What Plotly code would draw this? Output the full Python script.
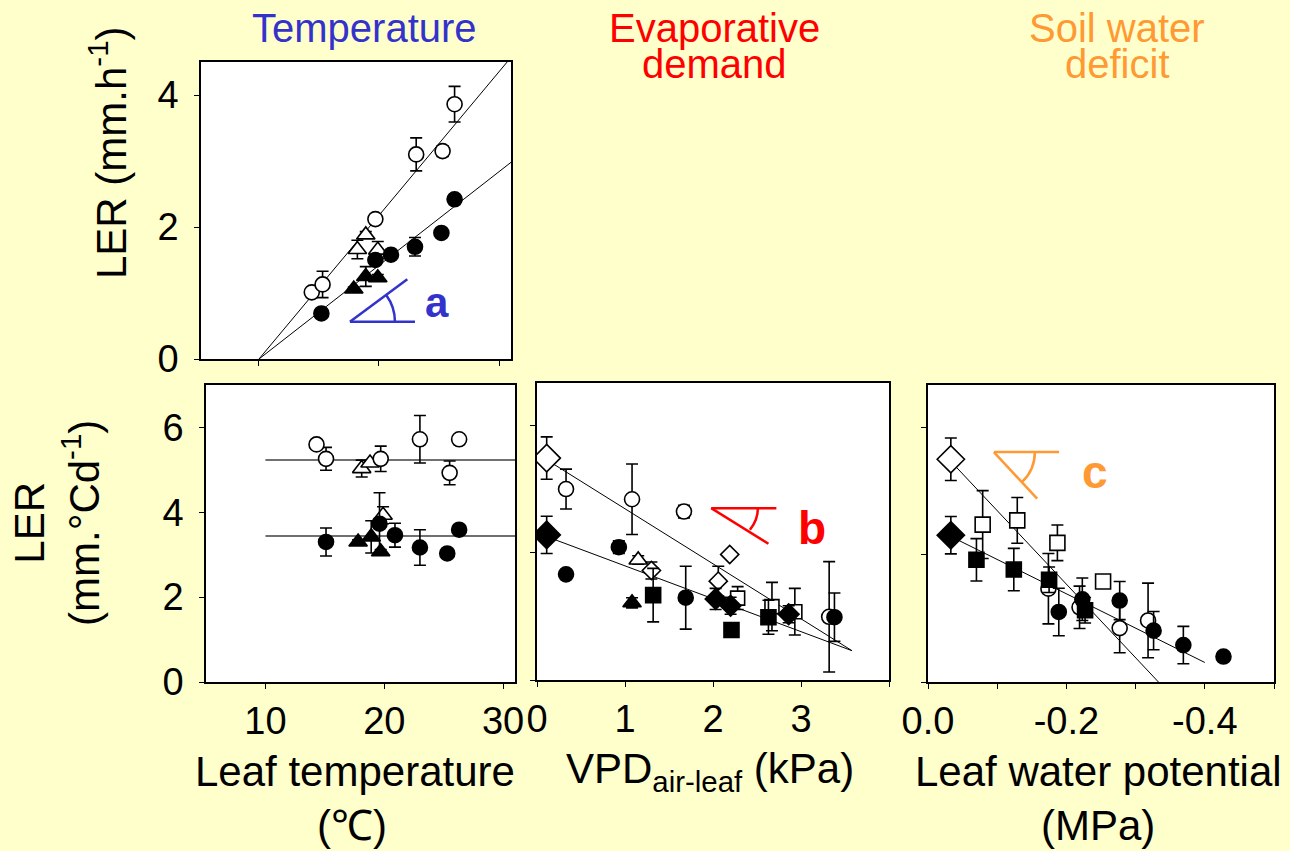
import plotly.graph_objects as go

# ---------------- data ----------------
# Panel a: LER (mm h-1) vs leaf temperature (°C)
a_open_circle_x = [14.4, 15.3, 19.7, 23.1, 25.3, 26.3]
a_open_circle_y = [1.01, 1.13, 2.12, 3.10, 3.15, 3.86]
a_open_circle_err = [0.0, 0.20, 0.06, 0.25, 0.08, 0.27]
a_open_tri_x = [18.2, 18.9, 19.9]
a_open_tri_y = [1.66, 1.88, 1.65]
a_open_tri_err = [0.14, 0.05, 0.13]
a_filled_circle_x = [15.2, 19.7, 21.0, 23.0, 25.2, 26.3]
a_filled_circle_y = [0.69, 1.50, 1.58, 1.70, 1.91, 2.42]
a_filled_circle_err = [0.0, 0.05, 0.06, 0.14, 0.0, 0.06]
a_filled_tri_x = [17.9, 18.9, 19.9]
a_filled_tri_y = [1.06, 1.25, 1.23]
a_filled_tri_err = [0.03, 0.15, 0.05]
a_fit_open_x = [10, 31]
a_fit_open_y = [0.0, 4.57]
a_fit_filled_x = [10, 31]
a_fit_filled_y = [0.0, 2.98]

# Panel a (lower): LER (mm °Cd-1) vs leaf temperature (°C)
t_open_circle_x = [14.3, 15.1, 19.7, 23.0, 25.5, 26.3]
t_open_circle_y = [5.60, 5.26, 5.26, 5.72, 4.93, 5.72]
t_open_circle_err = [0.0, 0.27, 0.30, 0.56, 0.28, 0.0]
t_open_tri_x = [18.1, 18.8, 19.9]
t_open_tri_y = [5.03, 5.16, 3.93]
t_open_tri_err = [0.2, 0.05, 0.2]
t_filled_circle_x = [15.1, 19.6, 20.9, 23.0, 25.3, 26.3]
t_filled_circle_y = [3.30, 3.73, 3.46, 3.17, 3.03, 3.59]
t_filled_circle_err = [0.33, 0.73, 0.28, 0.42, 0.0, 0.10]
t_filled_tri_x = [17.8, 18.9, 19.7]
t_filled_tri_y = [3.30, 3.42, 3.07]
t_filled_tri_err = [0.05, 0.38, 0.05]
t_fit_open_x = [10, 31]
t_fit_open_y = [5.23, 5.23]
t_fit_filled_x = [10, 31]
t_fit_filled_y = [3.44, 3.44]

# Panel b: LER (mm °Cd-1) vs VPD air-leaf (kPa)
v_open_diamond_ref_x = [0.11]
v_open_diamond_ref_y = [5.23]
v_open_diamond_ref_err = [0.5]
v_filled_diamond_ref_x = [0.11]
v_filled_diamond_ref_y = [3.42]
v_filled_diamond_ref_err = [0.44]
v_open_diamond_x = [1.30, 2.06, 2.19]
v_open_diamond_y = [2.58, 2.33, 2.96]
v_open_diamond_err = [0.2, 0.35, 0.0]
v_open_circle_x = [0.33, 1.08, 1.67, 3.32]
v_open_circle_y = [4.50, 4.26, 3.97, 1.49]
v_open_circle_err = [0.47, 0.83, 0.15, 1.3]
v_open_tri_x = [1.15]
v_open_tri_y = [2.83]
v_open_tri_err = [0.1]
v_open_square_x = [2.28, 2.67, 2.93]
v_open_square_y = [1.93, 1.73, 1.61]
v_open_square_err = [0.27, 0.57, 0.55]
v_filled_diamond_x = [2.03, 2.20, 2.86]
v_filled_diamond_y = [1.91, 1.75, 1.55]
v_filled_diamond_err = [0.25, 0.2, 0.2]
v_filled_circle_x = [0.33, 0.93, 1.69, 3.38]
v_filled_circle_y = [2.49, 3.13, 1.94, 1.48]
v_filled_circle_err = [0.0, 0.15, 0.74, 0.57]
v_filled_tri_x = [1.08]
v_filled_tri_y = [1.82]
v_filled_tri_err = [0.12]
v_filled_square_x = [1.32, 2.21, 2.63]
v_filled_square_y = [2.00, 1.18, 1.48]
v_filled_square_err = [0.63, 0.1, 0.4]
v_fit_open_x = [0.11, 3.58]
v_fit_open_y = [5.19, 0.69]
v_fit_filled_x = [0.11, 3.58]
v_fit_filled_y = [3.38, 0.69]

# Panel c: LER (mm °Cd-1) vs leaf water potential (MPa)
w_open_diamond_ref_x = [-0.033]
w_open_diamond_ref_y = [5.25]
w_open_diamond_ref_err = [0.5]
w_filled_diamond_ref_x = [-0.033]
w_filled_diamond_ref_y = [3.46]
w_filled_diamond_ref_err = [0.44]
w_open_square_x = [-0.079, -0.129, -0.187, -0.253]
w_open_square_y = [3.71, 3.81, 3.28, 2.37]
w_open_square_err = [0.8, 0.54, 0.42, 0.0]
w_filled_square_x = [-0.070, -0.124, -0.175, -0.227]
w_filled_square_y = [2.88, 2.65, 2.41, 1.69]
w_filled_square_err = [0.5, 0.5, 0.3, 0.3]
w_open_circle_x = [-0.174, -0.219, -0.277, -0.318]
w_open_circle_y = [2.20, 1.76, 1.27, 1.45]
w_open_circle_err = [0.83, 0.5, 0.58, 0.88]
w_filled_circle_x = [-0.189, -0.223, -0.277, -0.326, -0.369, -0.427]
w_filled_circle_y = [1.65, 1.95, 1.92, 1.21, 0.87, 0.60]
w_filled_circle_err = [0.56, 0.5, 0.45, 0.45, 0.44, 0.0]
w_fit_open_x = [-0.033, -0.333]
w_fit_open_y = [5.20, 0.0]
w_fit_filled_x = [-0.033, -0.400]
w_fit_filled_y = [3.43, 0.46]

# axis ticks
temp_ticks = [10, 20, 30]
vpd_ticks = [0, 1, 2, 3]
vpd_minor = [4]
psi_ticks = [0.0, -0.2, -0.4]
psi_ticktext = ["0.0", "-0.2", "-0.4"]
psi_minor = [-0.1, -0.3, -0.5]

# ---------------- styling ----------------
BG = "#FFFFCC"
W, H = 1290, 851
FONT = "Liberation Sans, Arial, sans-serif"
BLUE = "#3333CC"
RED = "#FF0000"
ORANGE = "#FF9933"


def fx(p):
    return p / W


def fy(p):
    return 1 - p / H


fig = go.Figure()


def fit_line(x, y, ax, color="black", width=1.0):
    fig.add_trace(go.Scatter(
        x=x, y=y, mode="lines", xaxis="x" + ax, yaxis="y" + ax,
        line=dict(color=color, width=width), hoverinfo="skip", showlegend=False))


def series(x, y, err, ax, symbol, filled, size=15):
    fig.add_trace(go.Scatter(
        x=x, y=y, mode="markers", xaxis="x" + ax, yaxis="y" + ax,
        marker=dict(symbol=symbol, size=size,
                    color="black" if filled else "white",
                    line=dict(color="black", width=1.6)),
        error_y=dict(type="data", array=err, visible=True, color="black",
                     thickness=1.6, width=6),
        showlegend=False))


# panel a (top)
fit_line(a_fit_open_x, a_fit_open_y, "")
fit_line(a_fit_filled_x, a_fit_filled_y, "")
series(a_open_tri_x, a_open_tri_y, a_open_tri_err, "", "triangle-up", False, 16)
series(a_open_circle_x, a_open_circle_y, a_open_circle_err, "", "circle", False)
series(a_filled_tri_x, a_filled_tri_y, a_filled_tri_err, "", "triangle-up", True, 16)
series(a_filled_circle_x, a_filled_circle_y, a_filled_circle_err, "", "circle", True)

# temperature panel, thermal time units
fit_line(t_fit_open_x, t_fit_open_y, "2", "#707070", 2)
fit_line(t_fit_filled_x, t_fit_filled_y, "2", "#707070", 2)
series(t_open_tri_x, t_open_tri_y, t_open_tri_err, "2", "triangle-up", False, 16)
series(t_open_circle_x, t_open_circle_y, t_open_circle_err, "2", "circle", False)
series(t_filled_tri_x, t_filled_tri_y, t_filled_tri_err, "2", "triangle-up", True, 16)
series(t_filled_circle_x, t_filled_circle_y, t_filled_circle_err, "2", "circle", True)

# VPD panel
fit_line(v_fit_open_x, v_fit_open_y, "3")
fit_line(v_fit_filled_x, v_fit_filled_y, "3")
series(v_open_circle_x, v_open_circle_y, v_open_circle_err, "3", "circle", False)
series(v_open_square_x, v_open_square_y, v_open_square_err, "3", "square", False, 14)
series(v_open_tri_x, v_open_tri_y, v_open_tri_err, "3", "triangle-up", False, 16)
series(v_open_diamond_x, v_open_diamond_y, v_open_diamond_err, "3", "diamond", False, 14)
series(v_open_diamond_ref_x, v_open_diamond_ref_y, v_open_diamond_ref_err, "3", "diamond", False, 21)
series(v_filled_circle_x, v_filled_circle_y, v_filled_circle_err, "3", "circle", True)
series(v_filled_square_x, v_filled_square_y, v_filled_square_err, "3", "square", True, 15)
series(v_filled_tri_x, v_filled_tri_y, v_filled_tri_err, "3", "triangle-up", True, 16)
series(v_filled_diamond_x, v_filled_diamond_y, v_filled_diamond_err, "3", "diamond", True, 16)
series(v_filled_diamond_ref_x, v_filled_diamond_ref_y, v_filled_diamond_ref_err, "3", "diamond", True, 21)

# leaf water potential panel
fit_line(w_fit_open_x, w_fit_open_y, "4")
fit_line(w_fit_filled_x, w_fit_filled_y, "4")
series(w_open_circle_x, w_open_circle_y, w_open_circle_err, "4", "circle", False)
series(w_open_square_x, w_open_square_y, w_open_square_err, "4", "square", False, 15)
series(w_open_diamond_ref_x, w_open_diamond_ref_y, w_open_diamond_ref_err, "4", "diamond", False, 21)
series(w_filled_square_x, w_filled_square_y, w_filled_square_err, "4", "square", True, 15)
series(w_filled_circle_x, w_filled_circle_y, w_filled_circle_err, "4", "circle", True)
series(w_filled_diamond_ref_x, w_filled_diamond_ref_y, w_filled_diamond_ref_err, "4", "diamond", True, 21)

axis_common = dict(
    showline=True, linecolor="black", linewidth=1.5, mirror=True,
    ticks="outside", ticklen=5, tickwidth=1, tickcolor="black",
    showgrid=False, zeroline=False, automargin=False,
    tickfont=dict(family=FONT, size=38, color="black"),
)
minor_common = dict(ticks="outside", ticklen=5, tickwidth=1, tickcolor="black", showgrid=False)

fig.update_layout(
    width=W, height=H,
    margin=dict(l=0, r=0, t=0, b=0, autoexpand=False),
    paper_bgcolor=BG, plot_bgcolor="white",
    showlegend=False,
    xaxis=dict(axis_common, domain=[fx(201), fx(511)], range=[5.17, 31],
               tickvals=temp_ticks, showticklabels=False, anchor="y"),
    yaxis=dict(axis_common, domain=[fy(359), fy(62)], range=[0, 4.5],
               tickvals=[0, 2, 4], anchor="x", ticklabelstandoff=8),
    xaxis2=dict(axis_common, domain=[fx(206), fx(515)], range=[5.0, 31.0],
                tickvals=temp_ticks, anchor="y2", ticklabelstandoff=0),
    yaxis2=dict(axis_common, domain=[fy(682), fy(385)], range=[0, 7],
                tickvals=[0, 2, 4, 6], anchor="x2", ticklabelstandoff=8),
    xaxis3=dict(axis_common, domain=[fx(537), fx(889)], range=[0, 4],
                tickvals=vpd_ticks, anchor="y3", ticklabelstandoff=0,
                minor=dict(minor_common, tickvals=vpd_minor)),
    yaxis3=dict(axis_common, domain=[fy(680), fy(383)], range=[0, 7],
                tickvals=[0, 3, 6], showticklabels=False, anchor="x3"),
    xaxis4=dict(axis_common, domain=[fx(928), fx(1274)], range=[0, -0.5],
                tickvals=psi_ticks, ticktext=psi_ticktext, anchor="y4",
                ticklabelstandoff=0,
                minor=dict(minor_common, tickvals=psi_minor)),
    yaxis4=dict(axis_common, domain=[fy(682), fy(385)], range=[0, 7],
                tickvals=[0, 3, 6], showticklabels=False, anchor="x4"),
)

# angle glyphs next to the panel letters
shapes = []


def angle(ax, pts, arc, color):
    xr, yr = "x" + ax, "y" + ax
    for (x0, y0, x1, y1) in pts:
        shapes.append(dict(type="line", xref=xr, yref=yr, x0=x0, y0=y0, x1=x1, y1=y1,
                           line=dict(color=color, width=2.5)))
    (sx, sy), (cx, cy), (ex, ey) = arc
    shapes.append(dict(type="path", xref=xr, yref=yr,
                       path=f"M {sx},{sy} Q {cx},{cy} {ex},{ey}",
                       line=dict(color=color, width=2.5)))


angle("", [(17.58, 0.565, 23.0, 0.565), (17.58, 0.565, 22.36, 1.21)],
      [(21.33, 0.565), (21.33, 0.79), (20.6, 0.971)], BLUE)
angle("3", [(1.98, 4.05, 2.72, 4.05), (1.98, 4.05, 2.63, 3.21)],
      [(2.51, 4.05), (2.51, 3.78), (2.42, 3.54)], RED)
angle("4", [(-0.0952, 5.42, -0.1894, 5.42), (-0.0952, 5.42, -0.1577, 4.32)],
      [(-0.1544, 5.42), (-0.1544, 4.99), (-0.1356, 4.71)], ORANGE)
fig.update_layout(shapes=shapes)

ann = []


def text(x, y, s, size, color="black", bold=False, xref="paper", yref="paper",
         angle=0, xanchor="center", yanchor="middle"):
    ann.append(dict(x=x, y=y, xref=xref, yref=yref, text=f"<b>{s}</b>" if bold else s,
                    showarrow=False, textangle=angle, xanchor=xanchor, yanchor=yanchor,
                    font=dict(family=FONT, size=size, color=color)))


# panel letters
text(24.8, 0.85, "a", 42, BLUE, True, "x", "y")
text(3.13, 3.58, "b", 46, RED, True, "x3", "y3")
text(-0.241, 4.96, "c", 46, ORANGE, True, "x4", "y4")

# column headings
text(fx(364), fy(28), "Temperature", 40, BLUE)
text(fx(714), fy(28), "Evaporative", 40, RED)
text(fx(714), fy(64), "demand", 40, RED)
text(fx(1117), fy(28), "Soil water", 40, ORANGE)
text(fx(1117), fy(64), "deficit", 40, ORANGE)

# axis titles
text(fx(355), fy(771), "Leaf temperature", 42)
text(fx(352), fy(825), "(℃)", 42)
text(fx(710), fy(771), "VPD<sub>air-leaf</sub> (kPa)", 42)
text(fx(1098), fy(771), "Leaf water potential", 42)
text(fx(1098), fy(825), "(MPa)", 42)
text(fx(108), fy(153), "LER (mm.h<sup>-1</sup>)", 42, angle=-90)
text(fx(57), fy(523), "LER<br>(mm.°Cd<sup>-1</sup>)", 42, angle=-90)

fig.update_layout(annotations=ann)

fig.write_html("out.html")
